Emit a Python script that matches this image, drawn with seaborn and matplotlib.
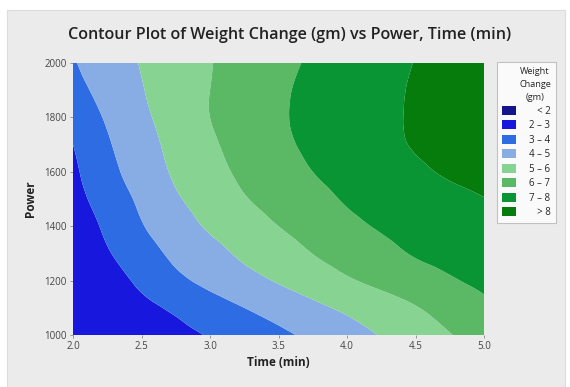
import numpy as np
import matplotlib
matplotlib.use("Agg")
import matplotlib.pyplot as plt
import seaborn as sns
from matplotlib.tri import Triangulation, UniformTriRefiner, CubicTriInterpolator
from matplotlib.patches import Patch, Rectangle

# ---- data (Weight Change, gm) ----
time_min = [2.0, 2.25, 2.5, 2.75, 3.0, 3.25, 3.5, 3.75, 4.0, 4.25, 4.5, 4.75, 5.0]
power = [1000, 1100, 1200, 1300, 1400, 1500, 1600, 1700, 1800, 1900, 2000]
weight_change = [
    [2.10, 2.33, 2.56, 2.80, 3.06, 3.43, 3.81, 4.20, 4.63, 5.05, 5.51, 5.96, 6.41],  # 1000
    [2.14, 2.47, 2.79, 3.15, 3.58, 4.00, 4.40, 4.79, 5.18, 5.57, 5.95, 6.40, 6.81],  # 1100
    [2.20, 2.62, 3.19, 3.77, 4.25, 4.67, 5.08, 5.48, 5.89, 6.24, 6.57, 6.91, 7.17],  # 1200
    [2.30, 2.92, 3.59, 4.20, 4.70, 5.17, 5.59, 6.01, 6.38, 6.75, 7.06, 7.25, 7.43],  # 1300
    [2.42, 3.18, 3.94, 4.56, 5.12, 5.56, 6.00, 6.38, 6.77, 7.08, 7.29, 7.50, 7.70],  # 1400
    [2.66, 3.44, 4.19, 4.89, 5.43, 5.94, 6.34, 6.72, 7.08, 7.34, 7.58, 7.80, 7.98],  # 1500
    [2.83, 3.69, 4.46, 5.13, 5.69, 6.18, 6.59, 7.00, 7.29, 7.57, 7.86, 8.08, 8.20],  # 1600
    [3.00, 3.89, 4.63, 5.28, 5.86, 6.35, 6.80, 7.17, 7.48, 7.78, 8.05, 8.21, 8.35],  # 1700
    [3.32, 4.11, 4.81, 5.42, 6.00, 6.44, 6.88, 7.22, 7.52, 7.83, 8.08, 8.27, 8.43],  # 1800
    [3.70, 4.33, 4.95, 5.48, 6.00, 6.42, 6.85, 7.20, 7.50, 7.80, 8.07, 8.26, 8.42],  # 1900
    [3.93, 4.50, 5.05, 5.51, 5.96, 6.36, 6.75, 7.11, 7.41, 7.72, 8.02, 8.20, 8.36],  # 2000
]
level_bounds = [2, 3, 4, 5, 6, 7, 8]
level_labels = ["\u2007 < 2", "2 \u2013 3", "3 \u2013 4", "4 \u2013 5",
                "5 \u2013 6", "6 \u2013 7", "7 \u2013 8", "\u2007 > 8"]
level_colors = ["#14148c", "#1717de", "#2e6ce4", "#87ade4",
                "#86d392", "#5bb865", "#0a9535", "#067c0c"]
x_ticks = [2.0, 2.5, 3.0, 3.5, 4.0, 4.5, 5.0]
y_ticks = [1000, 1200, 1400, 1600, 1800, 2000]

sns.set_theme(style="white")
plt.rcParams["font.family"] = ["Open Sans", "DejaVu Sans"]

fig = plt.figure(figsize=(5.7, 3.87), dpi=100, facecolor="white")
fig.patches.append(Rectangle((7 / 570, 0), 558 / 570, 1 - 10 / 387,
                             transform=fig.transFigure, facecolor="#ebebeb",
                             edgecolor="#dcdcdc", linewidth=0.8, zorder=-10))
ax = fig.add_axes([73 / 570, 1 - 335 / 387, (484 - 73) / 570, (335 - 63) / 387])

T, P = np.meshgrid(time_min, power)
Z = np.array(weight_change)
nr, nc = Z.shape
u = (T - T.min()) / (T.max() - T.min())
v = (P - P.min()) / (P.max() - P.min())
idx = np.arange(nr * nc).reshape(nr, nc)
tris = []
for i in range(nr - 1):
    for j in range(nc - 1):
        a, b, c, d = idx[i, j], idx[i, j + 1], idx[i + 1, j], idx[i + 1, j + 1]
        tris += [[a, b, d], [a, d, c]]
tri = Triangulation(u.ravel(), v.ravel(), np.array(tris))
interp = CubicTriInterpolator(tri, Z.ravel(), kind="min_E")
tri_f, z_f = UniformTriRefiner(tri).refine_field(Z.ravel(), triinterpolator=interp, subdiv=4)
tri_d = Triangulation(T.min() + tri_f.x * (T.max() - T.min()),
                      P.min() + tri_f.y * (P.max() - P.min()), tri_f.triangles)
levels = [-100] + level_bounds + [100]
ax.tricontourf(tri_d, z_f, levels=levels, colors=level_colors, antialiased=True)

ax.set_xlim(min(time_min), max(time_min))
ax.set_ylim(min(power), max(power))
ax.set_xticks(x_ticks)
ax.set_xticklabels([f"{t:.1f}" for t in x_ticks])
ax.set_yticks(y_ticks)
for s in ax.spines.values():
    s.set_visible(False)
ax.tick_params(axis="both", direction="out", length=2.5, width=0.6, color="#888888",
               labelsize=7, labelcolor="#444444", pad=2, bottom=True, left=True)
ax.set_xlabel("Time (min)", fontsize=8.5, fontweight="bold", color="#222222", labelpad=3)
ax.set_ylabel("Power", fontsize=8.5, fontweight="bold", color="#222222", labelpad=5)

fig.text(290 / 570, 1 - 35 / 387, "Contour Plot of Weight Change (gm) vs Power, Time (min)",
         ha="center", va="center", fontsize=11.6, fontweight="semibold", color="#222222")

handles = [Patch(facecolor=c, edgecolor="none") for c in level_colors]
leg = fig.legend(handles, level_labels, loc="upper left",
                 bbox_to_anchor=(497 / 570, 1 - 62 / 387), frameon=True,
                 fontsize=7, title="Weight\nChange\n(gm)", title_fontsize=6.6,
                 handlelength=1.45, handleheight=1.0, labelspacing=0.36,
                 handletextpad=1.3, borderpad=0.55, borderaxespad=0,
                 alignment="right", fancybox=False)
leg.get_frame().set_edgecolor("#b5b5b5")
leg.get_frame().set_linewidth(0.8)
leg.get_frame().set_facecolor("white")
leg.get_title().set_multialignment("center")
leg.get_title().set_linespacing(1.55)

fig.savefig("out.png", dpi=100, facecolor=fig.get_facecolor())
